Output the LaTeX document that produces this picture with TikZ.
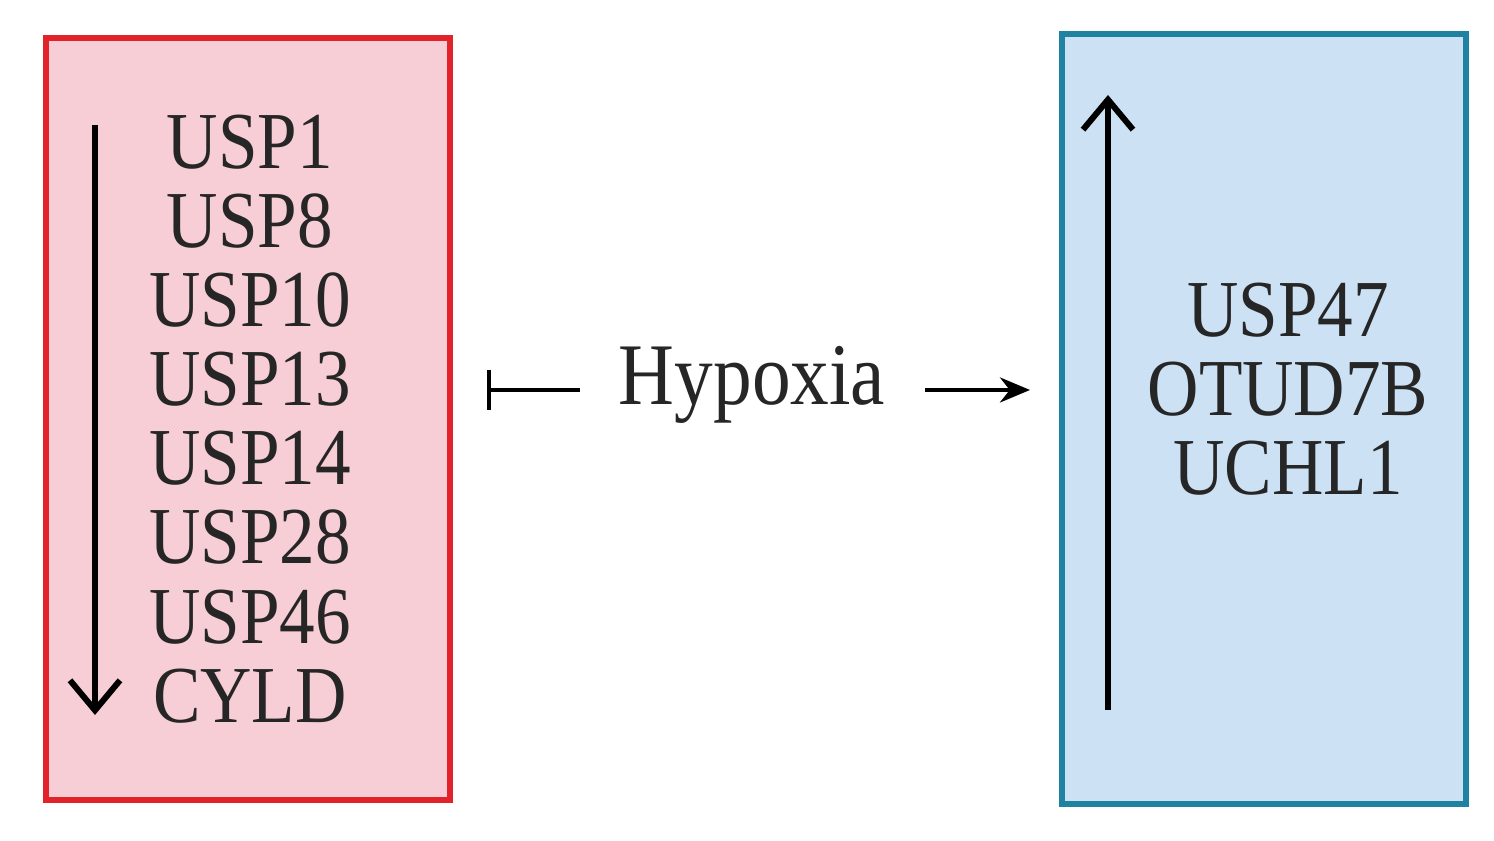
\documentclass[tikz,border=0pt]{standalone}
\usepackage{fontspec}
\setmainfont{Liberation Serif}[FakeStretch=0.88]
\usetikzlibrary{positioning,arrows.meta}
\definecolor{boxred}{RGB}{226,35,42}
\definecolor{fillred}{RGB}{247,205,214}
\definecolor{boxblue}{RGB}{30,130,160}
\definecolor{fillblue}{RGB}{204,225,244}
\tikzset{
  genebox/.style={line width=0.6mm},
  genes/.style={align=center, font=\fontsize{23}{22.5}\selectfont, text=black!85},
  trend/.style={line width=0.55mm, -{Straight Barb[length=3mm,width=5mm,line width=0.6mm]}}
}
\begin{document}
\begin{tikzpicture}

  % Canvas
  \useasboundingbox (0,0) rectangle (14.94,8.41);

  % Boxes
  \draw[genebox, draw=boxred, fill=fillred] (0.46,0.41) rectangle (4.50,8.03);
  \draw[genebox, draw=boxblue, fill=fillblue] (10.62,0.37) rectangle (14.66,8.07);

  % Gene lists
  \node[genes] (down) at (2.50,4.22) {USP1\\USP8\\USP10\\USP13\\USP14\\USP28\\USP46\\CYLD};
  \node[genes] (up) at (12.88,4.52) {USP47\\OTUD7B\\UCHL1};

  % Trend arrows
  \coordinate (dtop) at (0.95,7.16);
  \coordinate (dbot) at (0.95,1.26);
  \coordinate (ubot) at (11.08,1.31);
  \coordinate (utop) at (11.08,7.46);
  \draw[trend] (dtop) -- (dbot);
  \draw[trend] (ubot) -- (utop);

  % Hypoxia
  \node[font=\fontsize{25}{25}\selectfont, text=black!85] (hyp) at (7.52,4.56) {Hypoxia};
  \coordinate (inh) at (4.87,4.51);
  \coordinate (act) at (10.30,4.51);
  \draw[line width=0.4mm, -{Bar[width=4mm]}] (5.80,4.51) -- (inh);
  \draw[line width=0.4mm, -{Stealth[length=3mm,width=2.5mm]}] (9.25,4.51) -- (act);

\end{tikzpicture}
\end{document}
